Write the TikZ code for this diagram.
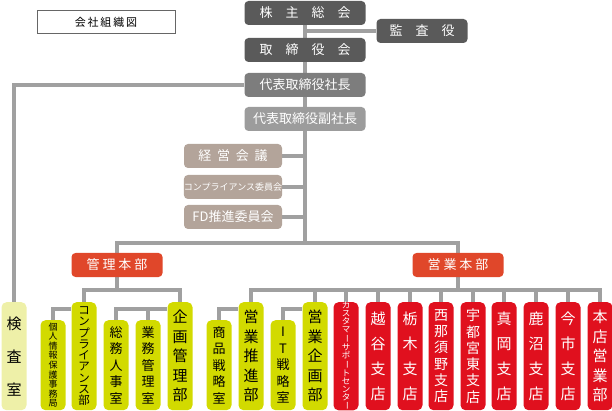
\documentclass[tikz,border=0pt]{standalone}
\usepackage{fontspec}
\setmainfont{Noto Sans CJK JP}
\usetikzlibrary{backgrounds}
\definecolor{dk}{HTML}{5A5A5A}
\definecolor{md}{HTML}{7D7D7D}
\definecolor{lt}{HTML}{9C9C9C}
\definecolor{tp}{HTML}{B3A49A}
\definecolor{org}{HTML}{E0472A}
\definecolor{yg}{HTML}{D2DA00}
\definecolor{rd}{HTML}{E0101E}
\definecolor{pale}{HTML}{EEF0A8}
\definecolor{ln}{HTML}{A0A0A0}
\newcommand{\vbarjp}{\rotatebox[origin=c]{-90}{ー}}
\tikzset{
 hbox/.style={rounded corners=4pt, inner sep=0pt, text=white, minimum width=121pt, minimum height=24pt, font=\fontsize{13}{13}\selectfont},
 vbox/.style={rounded corners=5pt, inner sep=0pt, minimum width=25pt, align=center},
 tall/.style={vbox, minimum height=108pt},
 short/.style={vbox, minimum height=90pt},
 conn/.style={draw=ln, line width=3.5pt}
}
\begin{document}
\begin{tikzpicture}[x=1pt,y=-1pt]
\useasboundingbox (0,0) rectangle (612,411);
\node[draw=black!60, line width=0.6pt, minimum width=138pt, minimum height=23pt, inner sep=0pt, font=\fontsize{11}{11}\selectfont] (title) at (106,22) {会\,社\,組\,織\,図};
\node[hbox, fill=dk] (kabu) at (305,13) {株\quad 主\quad 総\quad 会};
\node[hbox, fill=dk, minimum width=91pt] (kansa) at (422,31) {監\quad 査\quad 役};
\node[hbox, fill=dk] (tori) at (305,50) {取\quad 締\quad 役\quad 会};
\node[hbox, fill=md] (shacho) at (305,85) {代表取締役社長};
\node[hbox, fill=lt] (fuku) at (305,119) {代表取締役副社長};
\node[hbox, fill=tp, minimum width=98pt] (keiei) at (233,156) {経\ \ 営\ \ 会\ \ 議};
\node[hbox, fill=tp, minimum width=98pt, font=\fontsize{9}{9}\selectfont] (compi) at (233,187) {コンプライアンス委員会};
\node[hbox, fill=tp, minimum width=98pt] (fd) at (233,217) {FD推進委員会};
\node[hbox, fill=org, minimum width=91pt] (kanri) at (117,265) {管\ 理\ 本\ 部};
\node[hbox, fill=org, minimum width=91pt] (eigyo) at (458,265) {営\ 業\ 本\ 部};
\coordinate (J) at (305,243);
\coordinate (K1) at (117,290);
\coordinate (K2) at (458,290);
% left group
\node[tall, fill=pale, anchor=north, font=\fontsize{15}{33}\selectfont] (kensa) at (14,302) {検\\査\\室};
\node[short, fill=yg, anchor=north, font=\fontsize{9}{9.6}\selectfont] (kojin) at (53,320) {個\\人\\情\\報\\保\\護\\事\\務\\局};
\node[tall, fill=yg, anchor=north, font=\fontsize{11.5}{11.3}\selectfont] (comp) at (84,302) {コ\\ン\\プ\\ラ\\イ\\ア\\ン\\ス\\部};
\node[short, fill=yg, anchor=north, font=\fontsize{13}{16.5}\selectfont] (soumu) at (116,320) {総\\務\\人\\事\\室};
\node[short, fill=yg, anchor=north, font=\fontsize{13}{16.5}\selectfont] (gyomu) at (148,320) {業\\務\\管\\理\\室};
\node[tall, fill=yg, anchor=north, font=\fontsize{15}{19.5}\selectfont] (kikaku) at (180,302) {企\\画\\管\\理\\部};
% right group
\node[short, fill=yg, anchor=north, font=\fontsize{13}{16.5}\selectfont] (shohin) at (219,320) {商\\品\\戦\\略\\室};
\node[tall, fill=yg, anchor=north, font=\fontsize{15}{19.5}\selectfont] (suishin) at (251,302) {営\\業\\推\\進\\部};
\node[short, fill=yg, anchor=north, font=\fontsize{13}{16.5}\selectfont] (it) at (283,320) {I\\T\\戦\\略\\室};
\node[tall, fill=yg, anchor=north, font=\fontsize{15}{19.5}\selectfont] (ekikaku) at (315,302) {営\\業\\企\\画\\部};
\node[tall, fill=rd, text=white, anchor=north, font=\fontsize{8.5}{7.9}\selectfont] (cs) at (346,302) {カ\\ス\\タ\\マ\\\vbarjp\\サ\\ポ\\\vbarjp\\ト\\セ\\ン\\タ\\\vbarjp};
\node[tall, fill=rd, text=white, anchor=north, font=\fontsize{15}{25}\selectfont] (koshi) at (378,302) {越\\谷\\支\\店};
\node[tall, fill=rd, text=white, anchor=north, font=\fontsize{15}{25}\selectfont] (tochi) at (410,302) {栃\\木\\支\\店};
\node[tall, fill=rd, text=white, anchor=north, font=\fontsize{14}{16.3}\selectfont] (nasu) at (441,302) {西\\那\\須\\野\\支\\店};
\node[tall, fill=rd, text=white, anchor=north, font=\fontsize{14}{16.3}\selectfont] (utsu) at (473,302) {宇\\都\\宮\\東\\支\\店};
\node[tall, fill=rd, text=white, anchor=north, font=\fontsize{15}{25}\selectfont] (moka) at (504,302) {真\\岡\\支\\店};
\node[tall, fill=rd, text=white, anchor=north, font=\fontsize{15}{25}\selectfont] (kanuma) at (536,302) {鹿\\沼\\支\\店};
\node[tall, fill=rd, text=white, anchor=north, font=\fontsize{15}{25}\selectfont] (ima) at (568,302) {今\\市\\支\\店};
\node[tall, fill=rd, text=white, anchor=north, font=\fontsize{15}{19.5}\selectfont] (honten) at (600,302) {本\\店\\営\\業\\部};
\begin{pgfonlayer}{background}
\draw[conn] (kabu) -- (fuku);
\draw[conn] (kabu.south) |- (kansa.west);
\draw[conn] (fuku.south) -- (J);
\draw[conn] (keiei.east) -- (keiei.east -| J);
\draw[conn] (compi.east) -- (compi.east -| J);
\draw[conn] (fd.east) -- (fd.east -| J);
\draw[conn] (shacho.west) -| (kensa.north);
\draw[conn] (kanri.north) |- (J) -| (eigyo.north);
\draw[conn] (kanri.south) -- (K1);
\draw[conn] (comp.north) |- (K1) -| (kikaku.north);
\draw[conn] (kojin.north) |- ([yshift=-7pt]comp.north west);
\draw[conn] (soumu.north) |- ([yshift=-7pt]kikaku.north west);
\draw[conn] (gyomu.north) -- ++(0,-11);
\draw[conn] (eigyo.south) -- (K2);
\draw[conn] (suishin.north) |- (K2) -| (honten.north);
\draw[conn] (shohin.north) |- ([yshift=-7pt]suishin.north west);
\draw[conn] (it.north) |- ([yshift=-7pt]ekikaku.north west);
\foreach \n in {ekikaku,cs,koshi,tochi,nasu,utsu,moka,kanuma,ima}
  \draw[conn] (\n.north) -- ++(0,-12);
\end{pgfonlayer}
\end{tikzpicture}
\end{document}
